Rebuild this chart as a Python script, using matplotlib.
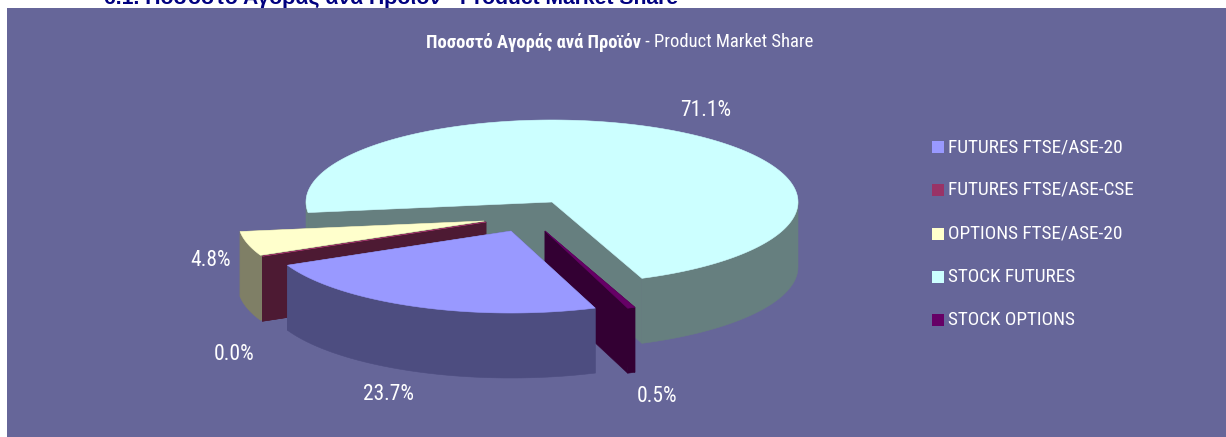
import numpy as np
import matplotlib
matplotlib.use('Agg')
import matplotlib.pyplot as plt
from matplotlib.patches import Polygon, Rectangle

# Product market share, clockwise as drawn in the chart
products = ['FUTURES FTSE/ASE-20', 'FUTURES FTSE/ASE-CSE', 'OPTIONS FTSE/ASE-20',
            'STOCK FUTURES', 'STOCK OPTIONS']
shares = [23.7, 0.0, 4.8, 71.1, 0.5]
share_labels = ['23.7%', '0.0%', '4.8%', '71.1%', '0.5%']

top_colors = ['#9999FF', '#993366', '#FFFFCC', '#CCFFFF', '#660066']
side_colors = ['#4D4D80', '#4D1A33', '#7F7F66', '#667F7F', '#330033']
bg = '#666699'

# pie centre for each slice in image pixels (exploded slices)
centres = [(511, 231), (486, 222), (484, 221), (552, 202), (545, 231)]
label_pos = [(706, 110), (211, 260), (234, 355), (388, 395), (657, 396)]
label_idx = [3, 2, 1, 0, 4]
first_angle = 160.0  # clockwise from 12 o'clock
rx, ry = 246, 82
depth = 65
draw_order = [3, 2, 1, 4, 0]

FONT = ['Roboto Condensed', 'Liberation Sans']


def arc(c, a0, a1):
    t = np.radians(np.linspace(a0, a1, max(2, int(abs(a1 - a0)) * 2)))
    return np.c_[c[0] + rx * np.sin(t), c[1] - ry * np.cos(t)]


def draw_slice(ax, c, a0, a1, top, side):
    pts = arc(c, a0, a1)
    apex = np.array(c)
    down = np.array([0, depth])
    # two radial walls
    for p in (pts[0], pts[-1]):
        wall = [apex, p, p + down, apex + down]
        ax.add_patch(Polygon(wall, fc=side, ec=side, lw=0.4, zorder=2))
    # outer wall only on the part facing the viewer
    for lo in (90, 450):
        s, e = max(a0, lo), min(a1, lo + 180)
        if e > s:
            vis = arc(c, s, e)
            ax.add_patch(Polygon(np.r_[vis, (vis + down)[::-1]], fc=side, ec=side, lw=0.4, zorder=2))
    ax.add_patch(Polygon(np.r_[[apex], pts], fc=top, ec=top, lw=0.4, zorder=2))


fig = plt.figure(figsize=(12.26, 4.37), dpi=100, facecolor='white')
ax = fig.add_axes([0, 0, 1, 1])
ax.set_xlim(0, 1226)
ax.set_ylim(437, 0)
ax.axis('off')

# the heading above the chart is cut off by the crop
ax.text(104, 4, '6.1. Ποσοστό Αγοράς ανά Προϊόν - Product Market Share', color='#000080',
        fontsize=15.2, fontweight='bold', family='Liberation Sans', va='baseline', ha='left')
ax.add_patch(Rectangle((7, 8), 1219, 429, fc=bg, ec='none', zorder=1))

angles = first_angle + np.cumsum([0] + [s * 3.6 for s in shares])
for i in draw_order:
    a0, a1 = angles[i], angles[i + 1]
    if shares[i] == 0:
        a1 = a0 + 0.01
    draw_slice(ax, centres[i], a0, a1, top_colors[i], side_colors[i])

for (x, y), i in zip(label_pos, label_idx):
    ax.text(x, y, share_labels[i], color='white', fontsize=15.5, family=FONT, ha='center', va='center', zorder=3)

ax.text(641, 42, 'Ποσοστό Αγοράς ανά Προϊόν', color='white', fontsize=13.4, fontweight='bold',
        family=FONT, ha='right', va='center', zorder=3)
ax.text(641, 42, ' - Product Market Share', color='white', fontsize=13.4, family=FONT,
        ha='left', va='center', zorder=3)

legend_y = [147, 190, 234, 277, 320]
for name, col, y in zip(products, top_colors, legend_y):
    ax.add_patch(Rectangle((932, y - 6), 12, 12, fc=col, ec='none', zorder=3))
    ax.text(948, y, name, color='white', fontsize=13.9, family=FONT, ha='left', va='center', zorder=3)

fig.savefig('out.png', dpi=100, facecolor='white')
